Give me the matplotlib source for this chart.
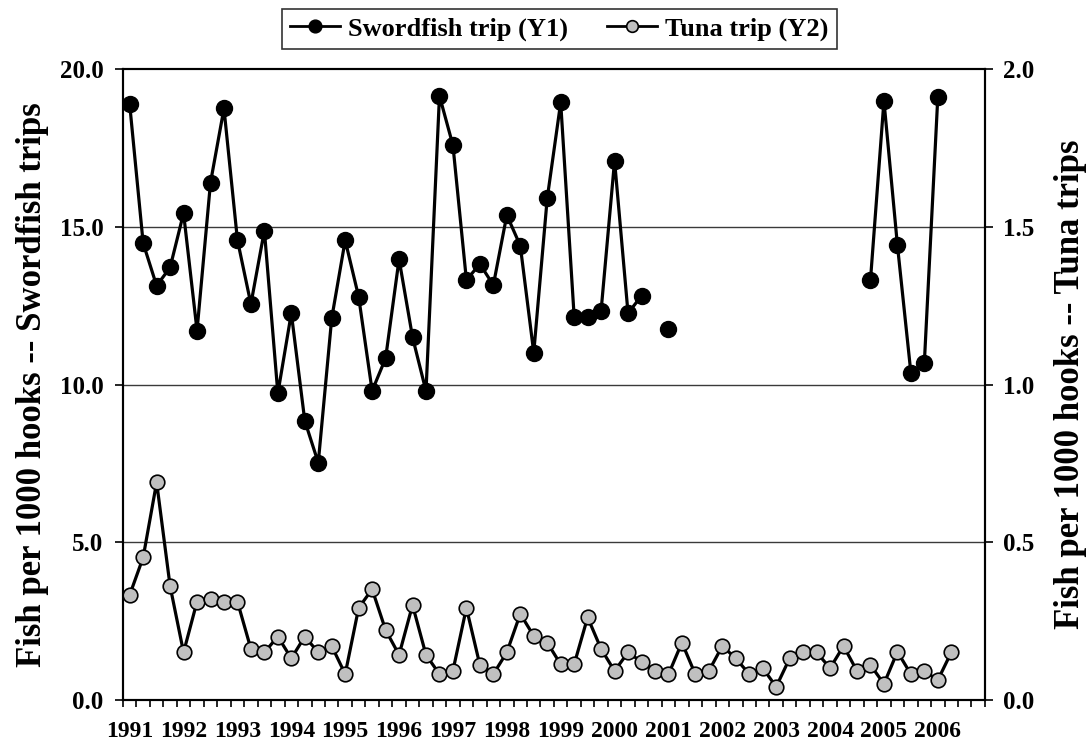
import numpy as np
import matplotlib
matplotlib.use("Agg")
import matplotlib.pyplot as plt
from matplotlib.ticker import FixedLocator, FormatStrFormatter

years = [str(y) for y in range(1991, 2007)]
n_quarters = 64

# Swordfish trips (left axis); None = no data
swordfish = [18.88, 14.48, 13.13, 13.71, 15.43, 11.71, 16.40, 18.75,
             14.58, 12.55, 14.88, 9.72, 12.26, 8.85, 7.52, 12.10,
             14.57, 12.78, 9.80, 10.83, 13.97, 11.50, 9.79, 19.15,
             17.58, 13.31, 13.82, 13.15, 15.37, 14.40, 11.01, 15.90,
             18.94, 12.15, 12.15, 12.34, 17.09, 12.26, 12.81, None,
             11.76, None, None, None, None, None, None, None,
             None, None, None, None, None, None, None, 13.31,
             18.99, 14.42, 10.37, 10.69, 19.12, None, None, None]

# Tuna trips (right axis)
tuna = [0.333, 0.452, 0.690, 0.361, 0.151, 0.312, 0.320, 0.312,
        0.312, 0.162, 0.151, 0.201, 0.132, 0.201, 0.151, 0.171,
        0.082, 0.292, 0.351, 0.222, 0.143, 0.301, 0.143, 0.082,
        0.093, 0.292, 0.111, 0.082, 0.151, 0.273, 0.203, 0.182,
        0.113, 0.113, 0.262, 0.162, 0.092, 0.151, 0.121, 0.092,
        0.081, 0.182, 0.081, 0.092, 0.171, 0.132, 0.082, 0.101,
        0.042, 0.132, 0.153, 0.151, 0.101, 0.171, 0.092, 0.111,
        0.051, 0.153, 0.082, 0.092, 0.063, 0.151, None, None]

FONT = "Liberation Serif"
plt.rcParams["font.family"] = FONT
plt.rcParams["font.weight"] = "bold"

fig = plt.figure(figsize=(10.91, 7.42), dpi=100)
ax = fig.add_axes([0.1127, 0.0566, 0.7901, 0.8504])
ax2 = ax.twinx()

x = np.arange(n_quarters)
sw = np.array([np.nan if v is None else v for v in swordfish], dtype=float)
tu = np.array([np.nan if v is None else v for v in tuna], dtype=float)

# gridlines
for g in [5, 10, 15]:
    ax.axhline(g, color="#3a3a3a", lw=1.0, zorder=0)

l1, = ax.plot(x, sw, color="black", lw=2.3, marker="o", markersize=11.5,
              markerfacecolor="black", markeredgecolor="black", zorder=3,
              label="Swordfish trip (Y1)")
l2, = ax2.plot(x, tu, color="black", lw=2.3, marker="o", markersize=10.5,
               markerfacecolor="#c0c0c0", markeredgecolor="black",
               markeredgewidth=1.2, zorder=3, label="Tuna trip (Y2)")

ax.set_xlim(-0.5, n_quarters - 0.5)
ax.set_ylim(0, 20)
ax2.set_ylim(0, 2.0)

ax.set_yticks([0, 5, 10, 15, 20])
ax.yaxis.set_major_formatter(FormatStrFormatter("%.1f"))
ax2.set_yticks([0, 0.5, 1.0, 1.5, 2.0])
ax2.yaxis.set_major_formatter(FormatStrFormatter("%.1f"))

ax.set_xticks(np.arange(0, n_quarters, 4))
ax.set_xticklabels(years)
ax.xaxis.set_minor_locator(FixedLocator(np.arange(-0.5, n_quarters, 1)))
ax.tick_params(axis="x", which="major", length=0, pad=15, labelsize=17)
ax.tick_params(axis="x", which="minor", length=5, width=1.2, direction="out")
ax.tick_params(axis="y", length=6, width=1.2, direction="out", pad=8, labelsize=18)
ax2.tick_params(axis="y", length=6, width=1.2, direction="out", pad=7, labelsize=18)

for lab in ax.get_xticklabels() + ax.get_yticklabels() + ax2.get_yticklabels():
    lab.set_fontweight("bold")

for a in (ax, ax2):
    for s in a.spines.values():
        s.set_linewidth(1.5)
        s.set_color("black")

ax.set_ylabel("Fish per 1000 hooks -- Swordfish trips", fontsize=25,
              fontweight="bold", labelpad=8)
ax2.set_ylabel("Fish per 1000 hooks -- Tuna trips", fontsize=25,
               fontweight="bold", labelpad=14)

leg = fig.legend(handles=[l1, l2], loc="center", bbox_to_anchor=(0.5125, 0.961),
                 ncol=2, frameon=True, fancybox=False, edgecolor="black",
                 prop={"family": FONT, "weight": "bold", "size": 19},
                 handlelength=1.9, handletextpad=0.3, columnspacing=1.5,
                 borderpad=0.3, markerscale=0.8)
leg.get_frame().set_linewidth(1.2)
for h in leg.legend_handles:
    h.set_linewidth(2.0)

fig.savefig("out.png", dpi=100)
